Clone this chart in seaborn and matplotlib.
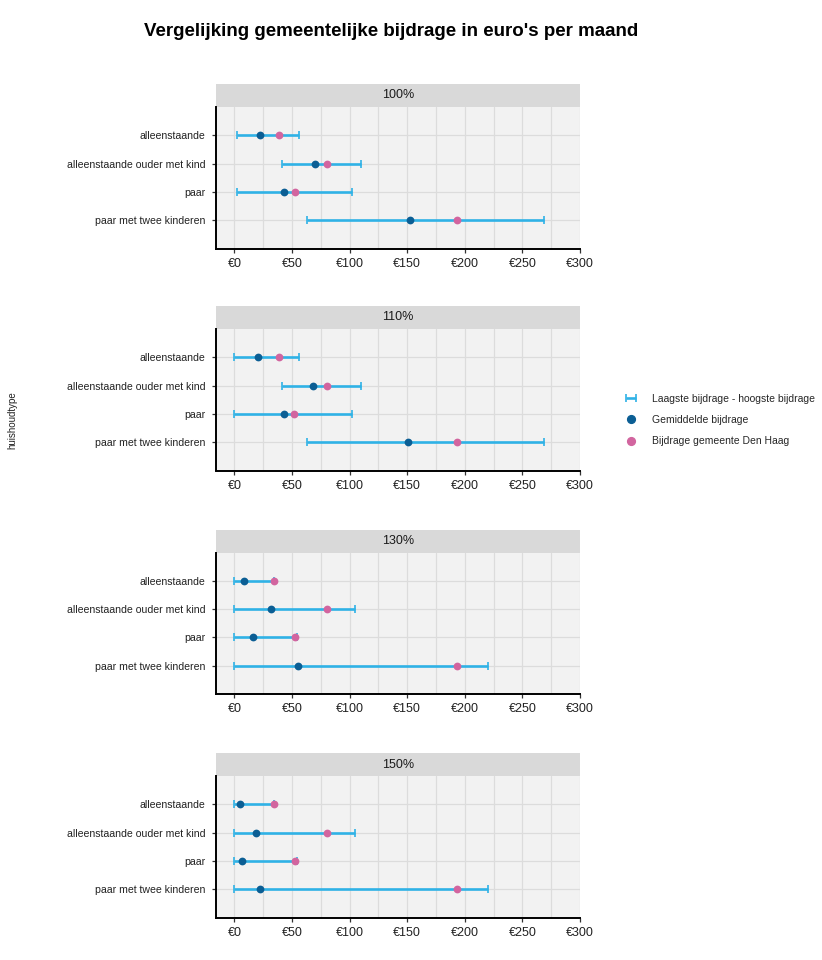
import matplotlib
matplotlib.use("Agg")
import matplotlib.pyplot as plt
import seaborn as sns
import pandas as pd
from matplotlib.patches import Rectangle
from matplotlib.lines import Line2D
from matplotlib.ticker import MultipleLocator, FuncFormatter

# ---------------- data ----------------
categories = ["alleenstaande", "alleenstaande ouder met kind", "paar", "paar met twee kinderen"]
panels = ["100%", "110%", "130%", "150%"]

laagste_100 = [2, 41, 2, 63]
hoogste_100 = [56, 110, 102, 269]
gemiddeld_100 = [22, 70, 43, 152]
denhaag_100 = [39, 80, 52.5, 193]

laagste_110 = [0, 41, 0, 63]
hoogste_110 = [56, 110, 102, 269]
gemiddeld_110 = [20.5, 68.5, 43, 150.5]
denhaag_110 = [38.5, 80, 52, 193]

laagste_130 = [0, 0, 0, 0]
hoogste_130 = [34, 105, 54, 220]
gemiddeld_130 = [8.5, 31.5, 16.5, 55.5]
denhaag_130 = [34, 80, 52.5, 193]

laagste_150 = [0, 0, 0, 0]
hoogste_150 = [34, 105, 54, 220]
gemiddeld_150 = [4.5, 19, 6.5, 22.5]
denhaag_150 = [34, 80, 52.5, 193]

x_ticks = [0, 50, 100, 150, 200, 250, 300]

panel_data = {
    "100%": (laagste_100, hoogste_100, gemiddeld_100, denhaag_100),
    "110%": (laagste_110, hoogste_110, gemiddeld_110, denhaag_110),
    "130%": (laagste_130, hoogste_130, gemiddeld_130, denhaag_130),
    "150%": (laagste_150, hoogste_150, gemiddeld_150, denhaag_150),
}

# ---------------- style ----------------
sns.set_theme(style="white")
plt.rcParams["font.family"] = ["Liberation Sans", "DejaVu Sans"]

c_range = "#2fb2e6"
c_mean = "#0b5e94"
c_dh = "#d2659f"
c_bg = "#f2f2f2"
c_grid = "#dcdcdc"
c_strip = "#d9d9d9"

W, H = 822, 960
fig = plt.figure(figsize=(W / 100, H / 100), dpi=100)

ax_left, ax_right = 216, 580
tops = [107, 329, 552.5, 776]
ax_h = 141.5
strip_h = 23

err_handle = None
for label, top in zip(panels, tops):
    lo, hi, mean, dh = panel_data[label]
    df = pd.DataFrame({"huishoudtype": categories, "laagste": lo, "hoogste": hi,
                       "gemiddeld": mean, "denhaag": dh})
    ax = fig.add_axes([ax_left / W, 1 - (top + ax_h) / H, (ax_right - ax_left) / W, ax_h / H])
    ax.set_facecolor(c_bg)

    sns.stripplot(data=df, x="gemiddeld", y="huishoudtype", order=categories, orient="h",
                  jitter=False, color=c_mean, size=5.6, linewidth=0, ax=ax, zorder=4)
    sns.stripplot(data=df, x="denhaag", y="huishoudtype", order=categories, orient="h",
                  jitter=False, color=c_dh, size=5.6, linewidth=0, ax=ax, zorder=5)

    ypos = list(range(len(categories)))
    mid = (df["laagste"] + df["hoogste"]) / 2
    half = (df["hoogste"] - df["laagste"]) / 2
    eb = ax.errorbar(x=mid, y=ypos, xerr=half, fmt="none", ecolor=c_range,
                     elinewidth=1.9, capsize=3.0, capthick=1.2, zorder=3)
    if err_handle is None:
        err_handle = eb

    ax.set_xlim(-16, 300)
    ax.set_ylim(4, -1)
    ax.xaxis.set_minor_locator(MultipleLocator(25))
    ax.set_xticks(x_ticks)
    ax.xaxis.set_major_formatter(FuncFormatter(lambda v, p: f"€{v:.0f}"))
    ax.set_axisbelow(True)
    ax.grid(True, which="both", axis="x", color=c_grid, linewidth=0.9)
    ax.yaxis.grid(True, color=c_grid, linewidth=0.9)
    ax.set_xlabel("")
    ax.set_ylabel("")
    for s in ["top", "right"]:
        ax.spines[s].set_visible(False)
    for s in ["left", "bottom"]:
        ax.spines[s].set_visible(True)
        ax.spines[s].set_color("black")
        ax.spines[s].set_linewidth(1.4)
    ax.tick_params(axis="both", which="major", length=3, width=0.9, color="#333333",
                   labelcolor="#222222")
    ax.tick_params(axis="y", which="major", labelsize=7.6, pad=4.5, left=True)
    ax.tick_params(axis="x", which="major", labelsize=9, pad=3.5, bottom=True)
    ax.tick_params(which="minor", length=0)

    ax.add_patch(Rectangle((0, 1), 1, strip_h / ax_h, transform=ax.transAxes,
                           clip_on=False, facecolor=c_strip, edgecolor="none"))
    ax.text(0.5, 1 + (strip_h / 2) / ax_h, label, transform=ax.transAxes,
            ha="center", va="center", fontsize=9, color="#1a1a1a")

# legend
handles = [
    err_handle,
    Line2D([], [], marker="o", linestyle="none", color=c_mean, markersize=5.6),
    Line2D([], [], marker="o", linestyle="none", color=c_dh, markersize=5.6),
]
labels = ["Laagste bijdrage - hoogste bijdrage", "Gemiddelde bijdrage", "Bijdrage gemeente Den Haag"]
fig.legend(handles, labels, loc="center left", bbox_to_anchor=(613 / W, 1 - 420 / H),
           frameon=False, fontsize=7.5, handlelength=1.6, handletextpad=1.25,
           labelspacing=1.1)

fig.text(12 / W, 1 - 420 / H, "huishoudtype", rotation=90, ha="center", va="center",
         fontsize=7, color="#222222")
fig.text(391.5 / W, 1 - 32 / H, "Vergelijking gemeentelijke bijdrage in euro's per maand",
         ha="center", va="center", fontsize=13.5, fontweight="bold", color="black")

fig.savefig("out.png", dpi=100)
